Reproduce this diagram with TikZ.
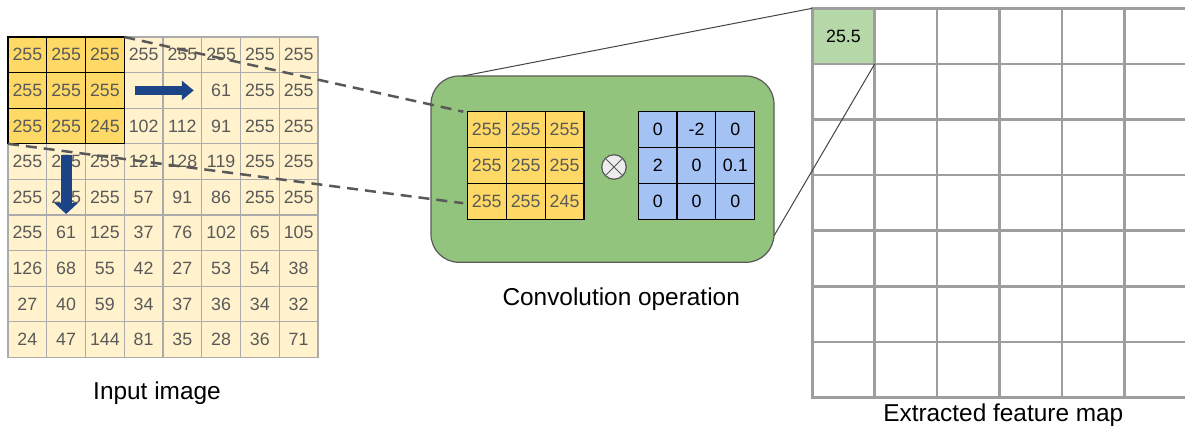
\documentclass[tikz,border=0pt]{standalone}
\usepackage{fontspec}
\setmainfont{Liberation Sans}
\usetikzlibrary{arrows.meta}

\definecolor{paleyellow}{HTML}{FFF2CC}
\definecolor{hlyellow}{HTML}{FFD966}
\definecolor{gridgray}{HTML}{ABABAB}
\definecolor{numgray}{HTML}{595959}
\definecolor{arrowblue}{HTML}{1C4587}
\definecolor{convgreen}{HTML}{93C47D}
\definecolor{kernelblue}{HTML}{A4C2F4}
\definecolor{fmgray}{HTML}{9E9E9E}
\definecolor{fmgreen}{HTML}{B6D7A8}
\definecolor{linegray}{HTML}{444444}

\newcommand\cellfont{\fontsize{17.8}{20}\selectfont}
\newcommand\labelfont{\fontsize{24.4}{28}\selectfont}

\begin{document}
\begin{tikzpicture}[x=1pt,y=-1pt,
  incell/.style={draw=gridgray, line width=1.3pt, minimum width=38.75pt,
    minimum height=35.6pt, inner sep=0pt, outer sep=0pt, text=numgray, font=\cellfont},
  hlline/.style={draw=black, line width=1.3pt},
  kcell/.style={draw=black, line width=1.2pt, minimum width=38.9pt,
    minimum height=35.8pt, inner sep=0pt, outer sep=0pt, font=\cellfont},
  fmcell/.style={draw=fmgray, line width=2.5pt, minimum width=62.4pt,
    minimum height=55.6pt, inner sep=0pt, outer sep=0pt, font=\cellfont},
  convbox/.style={draw=numgray, line width=1.2pt, fill=convgreen,
    rounded corners=28pt, inner sep=0pt, outer sep=0pt},
  movearrow/.style={draw=arrowblue, line width=#1},
  dashline/.style={draw=numgray, line width=2.5pt, dash pattern=on 11pt off 7pt},
  linkline/.style={draw=linegray, line width=1pt},
  caption/.style={font=\labelfont, anchor=base, inner sep=0pt},
]
\useasboundingbox (0,0) rectangle (1185,426);

% input image grid
\foreach \row [count=\r from 0] in {
  {255,255,255,255,255,255,255,255},
  {255,255,255,{},{},61,255,255},
  {255,255,245,102,112,91,255,255},
  {255,255,255,121,128,119,255,255},
  {255,255,255,57,91,86,255,255},
  {255,61,125,37,76,102,65,105},
  {126,68,55,42,27,53,54,38},
  {27,40,59,34,37,36,34,32},
  {24,47,144,81,35,28,36,71}}{
  \foreach \v [count=\c from 0] in \row {
    \ifnum\r<3 \ifnum\c<3 \def\cellfill{hlyellow}\else\def\cellfill{paleyellow}\fi
    \else\def\cellfill{paleyellow}\fi
    \node[incell, fill=\cellfill] (in-\r-\c) at ({8+38.75*(\c+0.5)},{37+35.6*(\r+0.5)}) {\v};
  }
}
% window outline
\draw[hlline] (in-0-0.north west) rectangle (in-2-2.south east);
\foreach \k in {0,1}{
  \draw[hlline] (in-0-\k.north east) -- (in-2-\k.south east);
  \draw[hlline] (in-\k-0.south west) -- (in-\k-2.south east);
}

% sliding directions
\draw[movearrow=9.5pt, -{Triangle[length=12pt,width=19pt]}]
  ([xshift=11pt]in-1-3.west) -- ([xshift=-8pt]in-1-4.east);
\draw[movearrow=11pt, -{Triangle[length=11pt,width=23pt]}]
  ([yshift=-11pt]in-3-1.north) -- ([yshift=1pt]in-4-1.south);

% convolution operation
\node[convbox, minimum width=343pt, minimum height=186.3pt] (conv) at (602.5,169.15) {};
\foreach \row [count=\r from 0] in {{255,255,255},{255,255,255},{255,255,245}}{
  \foreach \v [count=\c from 0] in \row {
    \node[kcell, fill=hlyellow, text=numgray] (cv-\r-\c) at ({467.3+38.9*(\c+0.5)},{111.7+35.8*(\r+0.5)}) {\v};
  }
}
\foreach \row [count=\r from 0] in {{0,-2,0},{2,0,0.1},{0,0,0}}{
  \foreach \v [count=\c from 0] in \row {
    \node[kcell, fill=kernelblue, text=black] (kn-\r-\c) at ({638.3+38.8*(\c+0.5)},{111.7+35.8*(\r+0.5)}) {\v};
  }
}
\node[circle, draw=numgray, line width=1.2pt, fill=black!7, minimum size=24.5pt,
  inner sep=0pt, outer sep=0pt] (times) at (614,167) {};
\draw[draw=numgray, line width=1pt] (times.45) -- (times.225) (times.135) -- (times.-45);

% extracted feature map
\foreach \r in {0,...,6}{
  \foreach \c in {0,...,5}{
    \node[fmcell] (fm-\r-\c) at ({812.3+62.4*(\c+0.5)},{8.3+55.6*(\r+0.5)}) {};
  }
}
\node[fmcell, fill=fmgreen] (fm-0-0) at ({812.3+31.2},{8.3+27.8}) {25.5};

% connectors
\coordinate (winTop) at ([xshift=-4pt]cv-0-0.north west);
\coordinate (winBot) at ([xshift=-4pt,yshift=-2pt]cv-2-0.west);
\draw[dashline] (in-0-2.north east) -- (winTop);
\draw[dashline] (in-2-0.south west) -- (winBot);
\draw[linkline] ([xshift=32pt]conv.north west) -- (fm-0-0.north west);
\draw[linkline] ([yshift=26.5pt]conv.south east) -- (fm-0-0.south east);

% captions
\node[caption] (capIn) at (157,399.3) {Input image};
\node[caption] (capConv) at (621.2,305.3) {Convolution operation};
\node[caption] (capFm) at (1003.3,421.7) {Extracted feature map};
\end{tikzpicture}
\end{document}
